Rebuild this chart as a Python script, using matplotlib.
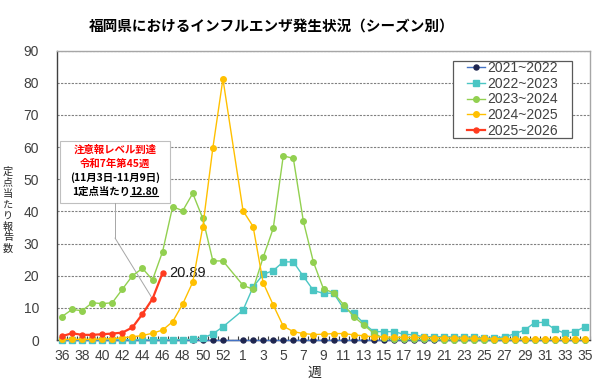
import numpy as np
import matplotlib
matplotlib.use('Agg')
import matplotlib.pyplot as plt
from matplotlib.lines import Line2D
from matplotlib.patches import Rectangle
from matplotlib.ticker import FixedLocator

plt.rcParams['font.family'] = ['Liberation Sans', 'Noto Sans CJK JP']

nan = np.nan

# week categories (season runs week 36 -> week 35; slot 53 has no data)
weeks = [36, 37, 38, 39, 40, 41, 42, 43, 44, 45, 46, 47, 48, 49, 50, 51, 52, 53,
         1, 2, 3, 4, 5, 6, 7, 8, 9, 10, 11, 12, 13, 14, 15, 16, 17, 18, 19, 20,
         21, 22, 23, 24, 25, 26, 27, 28, 29, 30, 31, 32, 33, 34, 35]

s2021 = [0.0, 0.0, 0.0, 0.0, 0.0, 0.0, 0.0, 0.0, 0.0, 0.0, 0.0, 0.0, 0.0, 0.0, 0.0, 0.0, 0.0, nan,
         0.0, 0.0, 0.0, 0.0, 0.0, 0.0, 0.0, 0.0, 0.0, 0.0, 0.0, 0.0, 0.0, 0.0, 0.0, 0.0, 0.0, 0.0,
         0.0, 0.0, 0.0, 0.0, 0.0, 0.0, 0.0, 0.0, 0.0, 0.0, 0.0, 0.0, 0.0, 0.0, 0.0, 0.0, 0.0]

s2022 = [0.1, 0.1, 0.1, 0.1, 0.1, 0.1, 0.1, 0.1, 0.1, 0.1, 0.1, 0.1, 0.1, 0.2, 0.7, 1.9, 4.1, nan,
         9.3, 16.5, 20.4, 21.6, 24.3, 24.3, 19.8, 15.4, 14.5, 14.6, 9.8, 8.4, 5.2, 2.6, 2.6, 2.6,
         1.8, 1.6, 1.0, 1.0, 1.0, 0.9, 0.9, 0.9, 0.6, 0.6, 1.0, 1.9, 3.1, 5.4, 5.5, 3.3, 2.1, 2.6, 4.1]

s2023 = [7.3, 9.5, 9.1, 11.6, 11.3, 11.6, 15.8, 20.0, 22.3, 18.7, 27.5, 41.5, 40.2, 45.6, 37.8, 24.6, 24.6, nan,
         17.0, 15.8, 25.7, 34.7, 57.3, 56.5, 36.9, 24.2, 15.9, 14.7, 11.0, 7.3, 4.7, 2.1,
         0.5, 0.3, 0.2, 0.2, 0.2, 0.2, 0.1, 0.1, 0.1, 0.1, 0.1, 0.1, 0.1, 0.1, 0.1, 0.1, 0.1, 0.1, 0.1, 0.1, 0.1]

s2024 = [0.2, 0.2, 0.2, 0.2, 0.3, 0.4, 0.7, 1.0, 1.4, 2.1, 3.1, 5.7, 11.2, 18.0, 35.3, 59.8, 81.2, nan,
         40.2, 35.3, 17.8, 10.9, 4.3, 2.6, 2.0, 1.7, 1.8,
         2.0, 2.0, 1.6, 1.3, 1.0, 0.9, 0.9, 0.8, 0.8, 0.8, 0.7, 0.7, 0.6, 0.6, 0.5, 0.5, 0.4, 0.4,
         0.3, 0.3, 0.3, 0.3, 0.2, 0.2, 0.2, 0.2]

s2025 = [1.2, 2.1, 1.6, 1.6, 1.8, 2.0, 2.3, 3.9, 8.1, 12.80, 20.89, nan, nan, nan, nan, nan, nan, nan,
         nan, nan, nan, nan, nan, nan, nan, nan, nan, nan, nan, nan, nan, nan, nan, nan, nan, nan,
         nan, nan, nan, nan, nan, nan, nan, nan, nan, nan, nan, nan, nan, nan, nan, nan, nan]

season_labels = ['2021~2022', '2022~2023', '2023~2024', '2024~2025', '2025~2026']
title = '福岡県におけるインフルエンザ発生状況（シーズン別）'
ylabel = '定点当たり報告数'
xlabel = '週'
alert_lines = ['注意報レベル到達', '令和7年第45週', '(11月3日-11月9日)', '1定点当たり']
alert_week_index = 9

W, H = 600, 386
fig = plt.figure(figsize=(W / 100, H / 100), dpi=100)
ax = fig.add_axes([57 / W, 1 - 340 / H, 533 / W, (340 - 50.7) / H])

x = np.arange(len(weeks))
styles = [
    dict(color='#4472C4', mfc='#1F2650', mec='#1F2650', marker='o', ms=3.6, lw=1.0, zorder=3),
    dict(color='#4BC6C4', mfc='#4BC6C4', mec='#4BC6C4', marker='s', ms=3.8, lw=1.0, zorder=4),
    dict(color='#92D050', mfc='#92D050', mec='#92D050', marker='o', ms=4.0, lw=1.0, zorder=5),
    dict(color='#FFC000', mfc='#FFC000', mec='#FFC000', marker='o', ms=4.0, lw=1.0, zorder=6),
    dict(color='#FF3B1F', mfc='#FF3B1F', mec='#FF3B1F', marker='o', ms=3.6, lw=1.6, zorder=7),
]
series = [s2021, s2022, s2023, s2024, s2025]
handles = []
for vals, st, lab in zip(series, styles, season_labels):
    v = np.array(vals, dtype=float)
    m = ~np.isnan(v)
    ax.plot(x[m], v[m], clip_on=False, **st)
    handles.append(Line2D([], [], label=lab, **{k: st[k] for k in st if k != 'zorder'}))

ax.set_xlim(-0.5, len(weeks) - 0.5)
ax.set_ylim(0, 90)
ax.set_yticks(np.arange(0, 91, 10))
ax.yaxis.grid(True, linestyle=(0, (2, 1.2)), color='#808080', lw=0.8)
ax.set_axisbelow(True)

ax.set_xticks(x[::2])
ax.set_xticklabels([str(w) for w in weeks[::2]])
ax.xaxis.set_minor_locator(FixedLocator(np.arange(-0.5, len(weeks), 1)))
ax.tick_params(axis='x', which='major', length=0, pad=6.5, labelsize=10, labelcolor='#404040')
ax.tick_params(axis='x', which='minor', length=3, direction='in', color='#404040', width=0.8)
ax.tick_params(axis='y', length=0, pad=13, labelsize=10, labelcolor='#404040')

for side in ['left', 'bottom']:
    ax.spines[side].set_color('#404040')
    ax.spines[side].set_linewidth(1.0)
for side in ['top', 'right']:
    ax.spines[side].set_color('#a6a6a6')
    ax.spines[side].set_linewidth(1.0)

# title and axis labels
fig.text(272 / W, 1 - 27 / H, title, ha='center', va='center', fontsize=10.5, weight='bold',
         family=['Noto Sans CJK JP'])
fig.text(314 / W, 1 - 373 / H, xlabel, ha='center', va='center', fontsize=10,
         family=['Noto Sans CJK JP'], color='#262626')
fig.text(8 / W, 1 - 210 / H, '\n'.join(ylabel), ha='center', va='center', fontsize=7.3,
         linespacing=1.12, family=['Noto Sans CJK JP'], color='#262626')

# legend with fixed-size frame
leg_rect = Rectangle((453 / W, 1 - 138 / H), 119 / W, 77 / H, transform=fig.transFigure,
                     facecolor='white', edgecolor='#595959', lw=0.9, zorder=10)
ax.add_patch(leg_rect)
leg_rect.set_clip_on(False)
leg = ax.legend(handles=handles, loc='center', bbox_to_anchor=(512.5 / W, 1 - 99.5 / H),
                bbox_transform=fig.transFigure, frameon=False, fontsize=10,
                handlelength=1.3, handletextpad=0.15, labelspacing=0.12, borderpad=0)
leg.set_zorder(11)
for t in leg.get_texts():
    t.set_color('#404040')

# alert annotation box
box = Rectangle((60 / W, 1 - 203 / H), 110 / W, 62 / H, transform=fig.transFigure,
                facecolor='white', edgecolor='#bfbfbf', lw=0.8, zorder=10)
ax.add_patch(box)
box.set_clip_on(False)
cx = 115 / W
ys = [150, 164, 178, 191.7]
cols = ['#FF0000', '#FF0000', 'black', 'black']
for txt, yy, c in zip(alert_lines[:3], ys[:3], cols[:3]):
    fig.text(cx, 1 - yy / H, txt, ha='center', va='center', fontsize=7.5, weight='bold',
             color=c, family=['Noto Sans CJK JP'], zorder=12)

val_txt = f'{s2025[alert_week_index]:.2f}'
t1 = fig.text(cx, 1 - ys[3] / H, alert_lines[3], ha='right', va='center', fontsize=7.5,
              weight='bold', family=['Noto Sans CJK JP'], zorder=12)
t2 = fig.text(cx, 1 - ys[3] / H, val_txt, ha='left', va='center', fontsize=7.5,
              weight='bold', family=['Noto Sans CJK JP'], zorder=12)
fig.canvas.draw()
r = fig.canvas.get_renderer()
w1 = t1.get_window_extent(r).width
w2 = t2.get_window_extent(r).width
split = 115 - (w1 + w2) / 2 + w1
t1.set_x(split / W)
t2.set_x(split / W)
bb2 = t2.get_window_extent(r)
uy = bb2.y0 + 0.5
fig.add_artist(Line2D([bb2.x0 / W, bb2.x1 / W], [uy / H, uy / H], transform=fig.transFigure,
                      color='black', lw=0.8, zorder=12))

# connector from box to alert week point
fig.add_artist(Line2D([cx, cx], [1 - 203 / H, 1 - 238 / H], transform=fig.transFigure,
                      color='#a6a6a6', lw=0.7))
ax.annotate('', xy=(x[alert_week_index], s2025[alert_week_index]), xycoords='data',
            xytext=(cx, 1 - 238 / H), textcoords='figure fraction',
            arrowprops=dict(arrowstyle='-', color='#a6a6a6', lw=0.7, shrinkA=0, shrinkB=2))

# latest value label
last_i = 10
ax.annotate(f'{s2025[last_i]:.2f}', xy=(x[last_i], s2025[last_i]), xytext=(5, 0),
            textcoords='offset points', ha='left', va='center', fontsize=10.5, color='#1a1a1a')

fig.savefig('out.png', dpi=100)
